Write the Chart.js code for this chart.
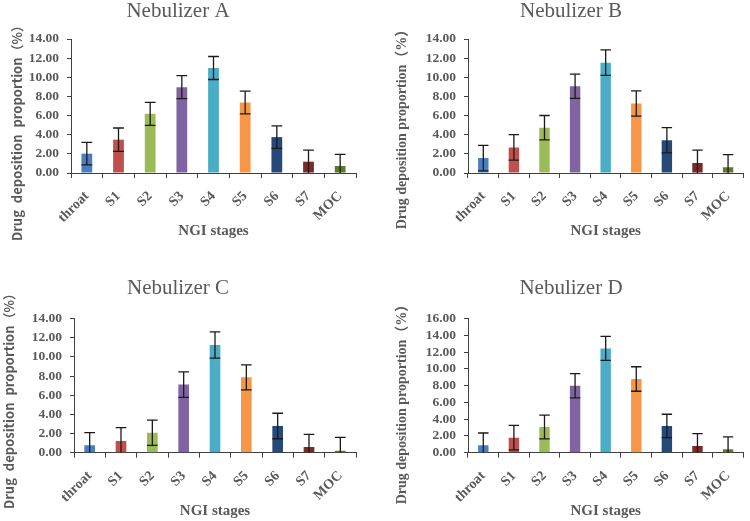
<!DOCTYPE html>
<html><head><meta charset="utf-8">
<script src="https://cdn.jsdelivr.net/npm/chart.js@4/dist/chart.umd.min.js"></script>
<style>
body{margin:0;background:#fff;width:750px;height:521px;position:relative;overflow:hidden}
.p{position:absolute}
canvas{display:block}
</style></head><body>
<div class="p" style="left:0;top:0"><canvas id="cA" width="375" height="260"></canvas></div>
<div class="p" style="left:375px;top:0"><canvas id="cB" width="375" height="260"></canvas></div>
<div class="p" style="left:0;top:260px"><canvas id="cC" width="375" height="261"></canvas></div>
<div class="p" style="left:375px;top:260px"><canvas id="cD" width="375" height="261"></canvas></div>
<script>
// ---- data ----
const stages = ['throat','S1','S2','S3','S4','S5','S6','S7','MOC'];
const titles = ['Nebulizer A','Nebulizer B','Nebulizer C','Nebulizer D'];
const valuesA = [2.02, 3.48, 6.18, 8.97, 10.97, 7.36, 3.75, 1.18, 0.73];
const errorsA = [1.17, 1.22, 1.20, 1.20, 1.20, 1.19, 1.18, 1.22, 1.21];
const valuesB = [1.56, 2.67, 4.74, 9.06, 11.53, 7.26, 3.42, 1.04, 0.59];
const errorsB = [1.33, 1.33, 1.27, 1.27, 1.34, 1.31, 1.32, 1.36, 1.32];
const valuesC = [0.77, 1.22, 2.09, 7.12, 11.26, 7.87, 2.79, 0.59, 0.21];
const errorsC = [1.32, 1.39, 1.32, 1.33, 1.37, 1.30, 1.33, 1.33, 1.39];
const valuesD = [0.88, 1.80, 3.07, 8.00, 12.45, 8.80, 3.19, 0.80, 0.40];
const errorsD = [1.47, 1.47, 1.42, 1.45, 1.43, 1.46, 1.40, 1.47, 1.50];
const yMaxes = [14, 14, 14, 16];
const yStep = 2;
const xTitle = 'NGI stages';
const yTitle = 'Drug deposition proportion（%）';

// ---- styles ----
const barColors = ['#4a7ebf','#c0504d','#9bbb59','#8064a2','#4bacc6','#f79646','#254a7a','#7a2a28','#5f7a2f'];
const gray = '#595959', axisColor = '#404040';
const serif = "'Liberation Serif','Noto Sans CJK SC',serif";
const sansCJK = "'Noto Sans CJK SC','Noto Sans',sans-serif";

const panels = [
  {id:'cA', values:valuesA, errors:errorsA, h:260, left:71, right:356, top:39, bottom:173, tY:11, xtPad:19.5, yt:{x:17, y:130, font:'bold 13px '+sansCJK, ws:'4px'}},
  {id:'cB', values:valuesB, errors:errorsB, h:260, left:93, right:374, top:39, bottom:173, tY:11, xtPad:19.5, yt:{x:27.5, y:126, font:'bold 14px '+serif, ws:'0px'}},
  {id:'cC', values:valuesC, errors:errorsC, h:261, left:74, right:356, top:58.7, bottom:192.7, tY:28, xtPad:0.5, yt:{x:9, y:138, font:'bold 13px '+sansCJK, ws:'4px'}},
  {id:'cD', values:valuesD, errors:errorsD, h:261, left:93, right:374, top:58.7, bottom:192.7, tY:28, xtPad:0.5, yt:{x:27.5, y:141, font:'bold 14px '+serif, ws:'0px'}}
];

const decor = {
  id:'decor',
  afterDatasetsDraw(chart, args, opts){
    const ctx = chart.ctx, ys = chart.scales.y;
    const meta = chart.getDatasetMeta(0);
    const vals = chart.data.datasets[0].data;
    ctx.save();
    ctx.strokeStyle = '#1a1a1a';
    ctx.lineWidth = 1.3;
    meta.data.forEach((bar, i) => {
      const e = opts.errors[i];
      const yT = ys.getPixelForValue(vals[i] + e);
      const yB = ys.getPixelForValue(Math.max(0, vals[i] - e));
      const hw = bar.width / 2;
      ctx.beginPath();
      ctx.moveTo(bar.x, yT); ctx.lineTo(bar.x, yB);
      ctx.moveTo(bar.x - hw, yT); ctx.lineTo(bar.x + hw, yT);
      if (vals[i] - e > 0) { ctx.moveTo(bar.x - hw, yB); ctx.lineTo(bar.x + hw, yB); }
      ctx.stroke();
    });
    ctx.restore();
  },
  afterDraw(chart, args, opts){
    const ctx = chart.ctx;
    ctx.save();
    ctx.fillStyle = gray;
    ctx.textAlign = 'center';
    ctx.textBaseline = 'middle';
    ctx.font = '21px ' + serif;
    ctx.fillText(opts.title, opts.tX, opts.tY);
    ctx.translate(opts.yt.x, opts.yt.y);
    ctx.rotate(-Math.PI/2);
    ctx.font = opts.yt.font;
    if ('wordSpacing' in ctx) ctx.wordSpacing = opts.yt.ws;
    ctx.fillText(yTitle, 0, 0);
    ctx.restore();
  }
};

panels.forEach((P, k) => {
  new Chart(document.getElementById(P.id), {
    type:'bar',
    data:{labels:stages, datasets:[{data:P.values, backgroundColor:barColors, borderWidth:0,
      barPercentage:0.34, categoryPercentage:1}]},
    options:{
      responsive:false, animation:false,
      layout:{padding:{top:P.top, right:375-P.right, left:0, bottom:0}},
      plugins:{legend:{display:false}, tooltip:{enabled:false}, title:{display:false},
        decor:{errors:P.errors, title:titles[k], tX:(k%2===0?178:196), tY:P.tY, yt:P.yt}},
      scales:{
        x:{
          grid:{drawOnChartArea:false, tickLength:5, color:axisColor, offset:true},
          border:{color:axisColor, width:1},
          ticks:{color:gray, font:{family:serif, weight:'bold', size:14}, minRotation:45, maxRotation:45, padding:10, autoSkip:false},
          title:{display:true, text:xTitle, color:gray, font:{family:serif, weight:'bold', size:15}, padding:{top:0, bottom:P.xtPad}},
          afterFit(s){ s.height = P.h - P.bottom; }
        },
        y:{
          min:0, max:yMaxes[k],
          grid:{drawOnChartArea:false, tickLength:4, color:axisColor},
          border:{color:axisColor, width:1},
          ticks:{stepSize:yStep, autoSkip:false, color:gray, padding:8, font:{family:serif, weight:'bold', size:13.5},
            callback:v => Number(v).toFixed(2)},
          afterFit(s){ s.width = P.left; }
        }
      }
    },
    plugins:[decor]
  });
});
</script>
</body></html>
